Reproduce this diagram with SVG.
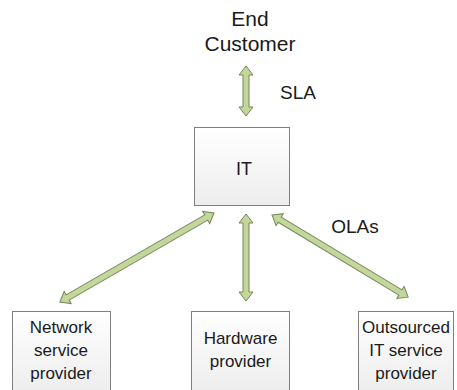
<svg xmlns="http://www.w3.org/2000/svg" width="457" height="390" viewBox="0 0 457 390">
<style>
.box{fill:url(#g);stroke:#7f7f7f;stroke-width:1}
.arr{fill:#c3d69b;stroke:#76875a;stroke-width:1;stroke-linejoin:miter}
text{font-family:"Liberation Sans",Arial,sans-serif;fill:#1a1a1a;text-anchor:middle}
.t{font-size:17px}
.big{font-size:21px}
.lbl{font-size:19px}
</style>
<defs>
<linearGradient id="g" x1="0" y1="0" x2="0" y2="1">
<stop offset="0" stop-color="#ffffff"/>
<stop offset="1" stop-color="#ededed"/>
</linearGradient>
</defs>
<g id="end-customer">
<text class="big" x="250" y="26">End</text>
<text class="big" x="250" y="51">Customer</text>
</g>
<g id="it">
<rect class="box" x="194.5" y="127.5" width="95" height="78"/>
<text style="font-size:18px" x="244" y="175">IT</text>
</g>
<g id="network">
<rect class="box" x="12.5" y="311.5" width="98" height="82"/>
<text class="t" x="61" y="333">Network</text>
<text class="t" x="61" y="356">service</text>
<text class="t" x="61" y="379">provider</text>
</g>
<g id="hardware">
<rect class="box" x="191.5" y="311.5" width="98" height="82"/>
<text class="t" x="240.5" y="344">Hardware</text>
<text class="t" x="240.5" y="367">provider</text>
</g>
<g id="outsourced">
<rect class="box" x="358.5" y="311.5" width="95" height="82"/>
<text class="t" x="406" y="333">Outsourced</text>
<text class="t" x="406" y="356">IT service</text>
<text class="t" x="406" y="379">provider</text>
</g>
<g id="connectors">
<path class="arr" transform="translate(246,66) rotate(90)" d="M0,0 L9,-7 L9,-3 L41,-3 L41,-7 L50,0 L41,7 L41,3 L9,3 L9,7 Z"/>
<path class="arr" transform="translate(246,214) rotate(90)" d="M0,0 L9,-7 L9,-3 L78,-3 L78,-7 L87,0 L78,7 L78,3 L9,3 L9,7 Z"/>
<path class="arr" transform="translate(214,213) rotate(150)" d="M0,0 L9,-7 L9,-3 L169,-3 L169,-7 L178,0 L169,7 L169,3 L9,3 L9,7 Z"/>
<path class="arr" transform="translate(272,215) rotate(31.1)" d="M0,0 L9,-7 L9,-3 L150,-3 L150,-7 L159,0 L150,7 L150,3 L9,3 L9,7 Z"/>
<text class="lbl" x="298" y="99">SLA</text>
<text class="lbl" x="355" y="233">OLAs</text>
</g>
</svg>
